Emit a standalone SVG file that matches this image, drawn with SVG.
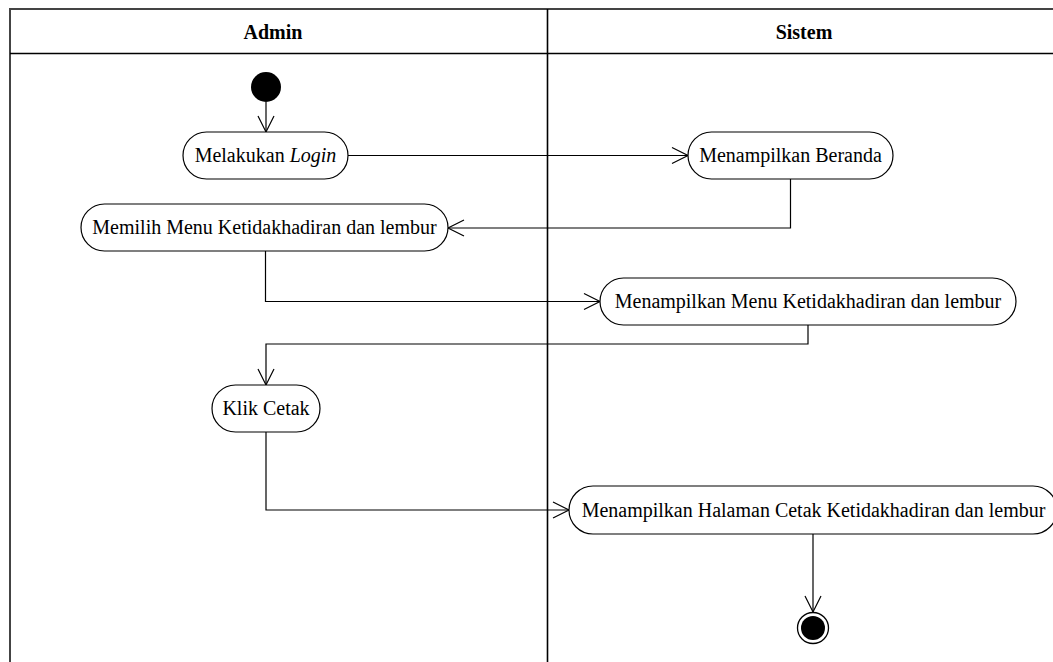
<svg xmlns="http://www.w3.org/2000/svg" width="1053" height="662" viewBox="0 0 1053 662">
<style>
.frame{fill:none;stroke:#444;stroke-width:2}
.lane{fill:none;stroke:#000;stroke-width:1.6}
.node{fill:#fff;stroke:#000;stroke-width:1.2}
.lbl{font-family:"Liberation Serif","Times New Roman",serif;font-size:20px;fill:#000;text-anchor:middle}
.hdr{font-family:"Liberation Serif","Times New Roman",serif;font-size:20px;font-weight:bold;fill:#000;text-anchor:middle}
.edge{fill:none;stroke:#000;stroke-width:1.2;marker-end:url(#arr)}
</style>
<defs>
<marker id="arr" markerUnits="userSpaceOnUse" markerWidth="18" markerHeight="18" refX="16" refY="8" orient="auto" overflow="visible">
<path d="M0,0 L16,8 L0,16" fill="none" stroke="#000" stroke-width="1.2"/>
</marker>
</defs>
<rect fill="#fff" x="0" y="0" width="1053" height="662"/>
<g id="swimlanes">
<rect class="frame" x="10" y="9" width="1060" height="680"/>
<line class="lane" x1="10" y1="53.5" x2="1053" y2="53.5"/>
<line class="lane" x1="547.5" y1="9" x2="547.5" y2="662"/>
<text class="hdr" x="273" y="39">Admin</text>
<text class="hdr" x="804" y="39">Sistem</text>
</g>
<g id="connectors">
<path class="edge" d="M266,102 L266,132"/>
<path class="edge" d="M348,155.5 L688,155.5"/>
<path class="edge" d="M790.5,179 L790.5,228 L448,228"/>
<path class="edge" d="M265.5,251 L265.5,301.5 L600,301.5"/>
<path class="edge" d="M808,325 L808,344 L266,344 L266,385"/>
<path class="edge" d="M266,432 L266,510 L569,510"/>
<path class="edge" d="M813,534 L813,612"/>
</g>
<g id="start">
<circle cx="266" cy="87" r="15" fill="#000"/>
</g>
<g id="login">
<rect class="node" x="183" y="132" width="165" height="47" rx="23.5"/>
<text class="lbl" x="265.5" y="162">Melakukan <tspan font-style="italic">Login</tspan></text>
</g>
<g id="beranda">
<rect class="node" x="688" y="132" width="205" height="47" rx="23.5"/>
<text class="lbl" x="790.5" y="162">Menampilkan Beranda</text>
</g>
<g id="memilih">
<rect class="node" x="81" y="204" width="367" height="47" rx="23.5"/>
<text class="lbl" x="264.5" y="234">Memilih Menu Ketidakhadiran dan lembur</text>
</g>
<g id="menu">
<rect class="node" x="600" y="278" width="416" height="47" rx="23.5"/>
<text class="lbl" x="808" y="308">Menampilkan Menu Ketidakhadiran dan lembur</text>
</g>
<g id="klik">
<rect class="node" x="212" y="385" width="108" height="47" rx="23.5"/>
<text class="lbl" x="266" y="415">Klik Cetak</text>
</g>
<g id="halaman">
<rect class="node" x="569" y="486" width="488" height="48" rx="24"/>
<text class="lbl" x="813.5" y="516.5">Menampilkan Halaman Cetak Ketidakhadiran dan lembur</text>
</g>
<g id="end">
<circle cx="813" cy="628" r="15.5" fill="#fff" stroke="#000" stroke-width="1.3"/>
<circle cx="813" cy="628" r="12" fill="#000"/>
</g>
</svg>
